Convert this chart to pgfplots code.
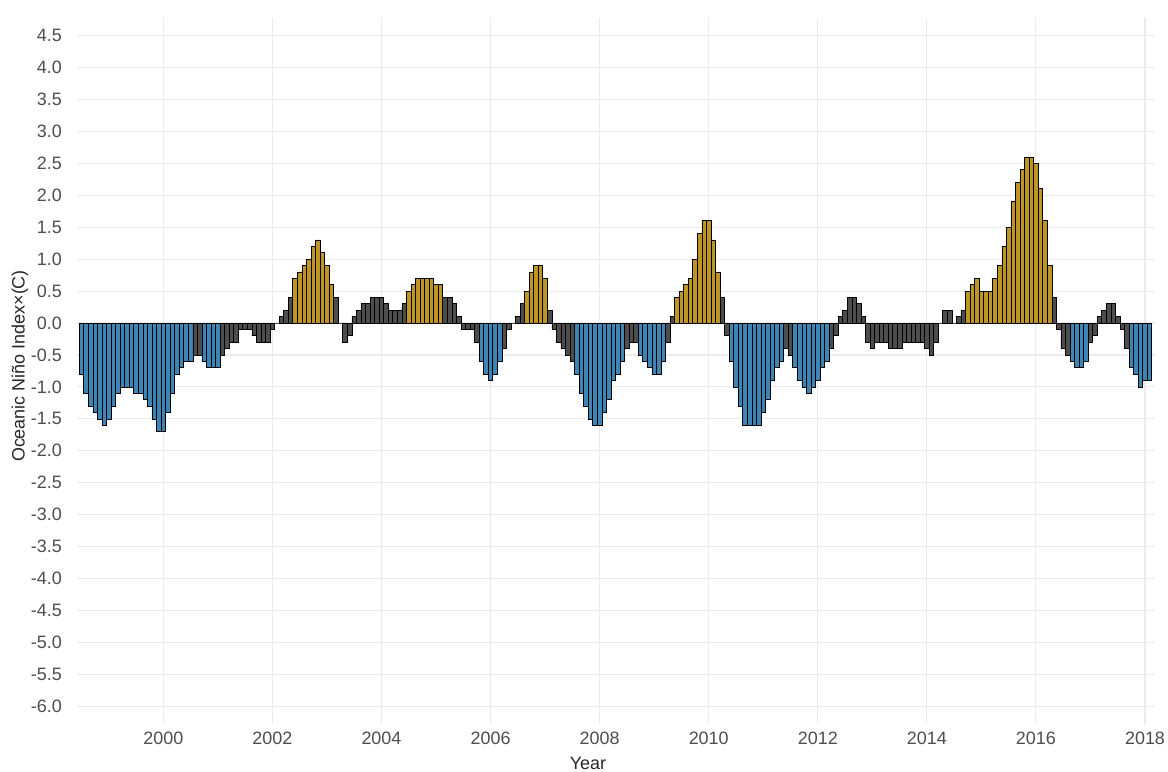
\documentclass[border=0pt]{standalone}
\usepackage{fontspec}
\setmainfont{Liberation Sans}
\usepackage{pgfplots}
\pgfplotsset{compat=1.18}
\definecolor{nblue}{HTML}{3D85B5}
\definecolor{ngold}{HTML}{BF9526}
\definecolor{ngray}{HTML}{4D4D4D}
\definecolor{gridc}{HTML}{EBEBEB}
\definecolor{tickc}{HTML}{4D4D4D}
\begin{document}
\begin{tikzpicture}[x=1bp,y=1bp]
\path[use as bounding box] (0,0) rectangle (1168,772);
\begin{axis}[
  at={(77bp,47.7bp)}, anchor=south west,
  scale only axis, width=1078bp, height=706.7bp,
  xmin=-18.99, xmax=218.2, ymin=-6.28, ymax=4.78,
  axis line style={draw=none}, major tick length=0pt,
  xtick={0,24,48,72,96,120,144,168,192,216},
  xticklabels={2000,2002,2004,2006,2008,2010,2012,2014,2016,2018},
  ytick={-6,-5.5,-5,-4.5,-4,-3.5,-3,-2.5,-2,-1.5,-1,-0.5,0,0.5,1,1.5,2,2.5,3,3.5,4,4.5},
  yticklabels={-6.0,-5.5,-5.0,-4.5,-4.0,-3.5,-3.0,-2.5,-2.0,-1.5,-1.0,-0.5,0.0,0.5,1.0,1.5,2.0,2.5,3.0,3.5,4.0,4.5},
  grid=major, major grid style={draw=gridc, line width=1.1bp},
  yticklabel style={font=\fontsize{18}{22}\selectfont, text=tickc, anchor=east, inner sep=0pt, xshift=-15bp},
  xticklabel style={font=\fontsize{18}{22}\selectfont, text=tickc, anchor=north, inner sep=0pt, yshift=-7.7bp},
]
\addplot[ybar, bar width=1, bar shift=0pt, fill=nblue, draw=black, line width=0.7bp] coordinates {
(-18,-0.8) (-17,-1.1) (-16,-1.3) (-15,-1.4) (-14,-1.5) (-13,-1.6) (-12,-1.5) (-11,-1.3) (-10,-1.1) (-9,-1.0) (-8,-1.0) (-7,-1.0) (-6,-1.1) (-5,-1.1) (-4,-1.2) (-3,-1.3) (-2,-1.5) (-1,-1.7) (0,-1.7) (1,-1.4) (2,-1.1) (3,-0.8) (4,-0.7) (5,-0.6) (6,-0.6)
(9,-0.6) (10,-0.7) (11,-0.7) (12,-0.7)
(70,-0.6) (71,-0.8) (72,-0.9) (73,-0.8) (74,-0.6)
(91,-0.8) (92,-1.1) (93,-1.3) (94,-1.5) (95,-1.6) (96,-1.6) (97,-1.4) (98,-1.2) (99,-0.9) (100,-0.8) (101,-0.6)
(105,-0.5) (106,-0.6) (107,-0.7) (108,-0.8) (109,-0.8) (110,-0.6)
(125,-0.6) (126,-1.0) (127,-1.3) (128,-1.6) (129,-1.6) (130,-1.6) (131,-1.6) (132,-1.4) (133,-1.2) (134,-0.9) (135,-0.7) (136,-0.6)
(139,-0.7) (140,-0.9) (141,-1.0) (142,-1.1) (143,-1.0) (144,-0.9) (145,-0.7) (146,-0.6)
(200,-0.6) (201,-0.7) (202,-0.7) (203,-0.6)
(213,-0.7) (214,-0.8) (215,-1.0) (216,-0.9) (217,-0.9)
};
\addplot[ybar, bar width=1, bar shift=0pt, fill=ngold, draw=black, line width=0.7bp] coordinates {
(29,0.7) (30,0.8) (31,0.9) (32,1.0) (33,1.2) (34,1.3) (35,1.1) (36,0.9) (37,0.6)
(54,0.5) (55,0.6) (56,0.7) (57,0.7) (58,0.7) (59,0.7) (60,0.6) (61,0.6)
(80,0.5) (81,0.8) (82,0.9) (83,0.9) (84,0.7)
(113,0.4) (114,0.5) (115,0.6) (116,0.7) (117,1.0) (118,1.4) (119,1.6) (120,1.6) (121,1.3) (122,0.8)
(177,0.5) (178,0.6) (179,0.7) (180,0.5) (181,0.5) (182,0.5) (183,0.7) (184,0.9) (185,1.2) (186,1.5) (187,1.9) (188,2.2) (189,2.4) (190,2.6) (191,2.6) (192,2.5) (193,2.1) (194,1.6) (195,0.9)
};
\addplot[ybar, bar width=1, bar shift=0pt, fill=ngray, draw=black, line width=0.7bp] coordinates {
(7,-0.5) (8,-0.5)
(13,-0.5) (14,-0.4) (15,-0.3) (16,-0.3) (17,-0.1) (18,-0.1) (19,-0.1) (20,-0.2) (21,-0.3) (22,-0.3) (23,-0.3) (24,-0.1) (25,0.0) (26,0.1) (27,0.2) (28,0.4)
(38,0.4) (39,0.0) (40,-0.3) (41,-0.2) (42,0.1) (43,0.2) (44,0.3) (45,0.3) (46,0.4) (47,0.4) (48,0.4) (49,0.3) (50,0.2) (51,0.2) (52,0.2) (53,0.3)
(62,0.4) (63,0.4) (64,0.3) (65,0.1) (66,-0.1) (67,-0.1) (68,-0.1) (69,-0.3)
(75,-0.4) (76,-0.1) (77,0.0) (78,0.1) (79,0.3)
(85,0.2) (86,-0.1) (87,-0.3) (88,-0.4) (89,-0.5) (90,-0.6)
(102,-0.4) (103,-0.3) (104,-0.3)
(111,-0.3) (112,0.1)
(123,0.4) (124,-0.2)
(137,-0.4) (138,-0.5)
(147,-0.4) (148,-0.2) (149,0.1) (150,0.2) (151,0.4) (152,0.4) (153,0.3) (154,0.1) (155,-0.3) (156,-0.4) (157,-0.3) (158,-0.3) (159,-0.3) (160,-0.4) (161,-0.4) (162,-0.4) (163,-0.3) (164,-0.3) (165,-0.3) (166,-0.3) (167,-0.3) (168,-0.4) (169,-0.5) (170,-0.3) (171,0.0) (172,0.2) (173,0.2) (174,0.0) (175,0.1) (176,0.2)
(196,0.4) (197,-0.1) (198,-0.4) (199,-0.5)
(204,-0.3) (205,-0.2) (206,0.1) (207,0.2) (208,0.3) (209,0.3) (210,0.1) (211,-0.1) (212,-0.4)
};
\end{axis}
\node[font=\fontsize{18}{22}\selectfont, text=black!85] at (588,9) {Year};
\node[rotate=90, font=\fontsize{18}{22}\selectfont, text=black!85] at (20,406) {Oceanic Niño Index×(C)};
\end{tikzpicture}
\end{document}
